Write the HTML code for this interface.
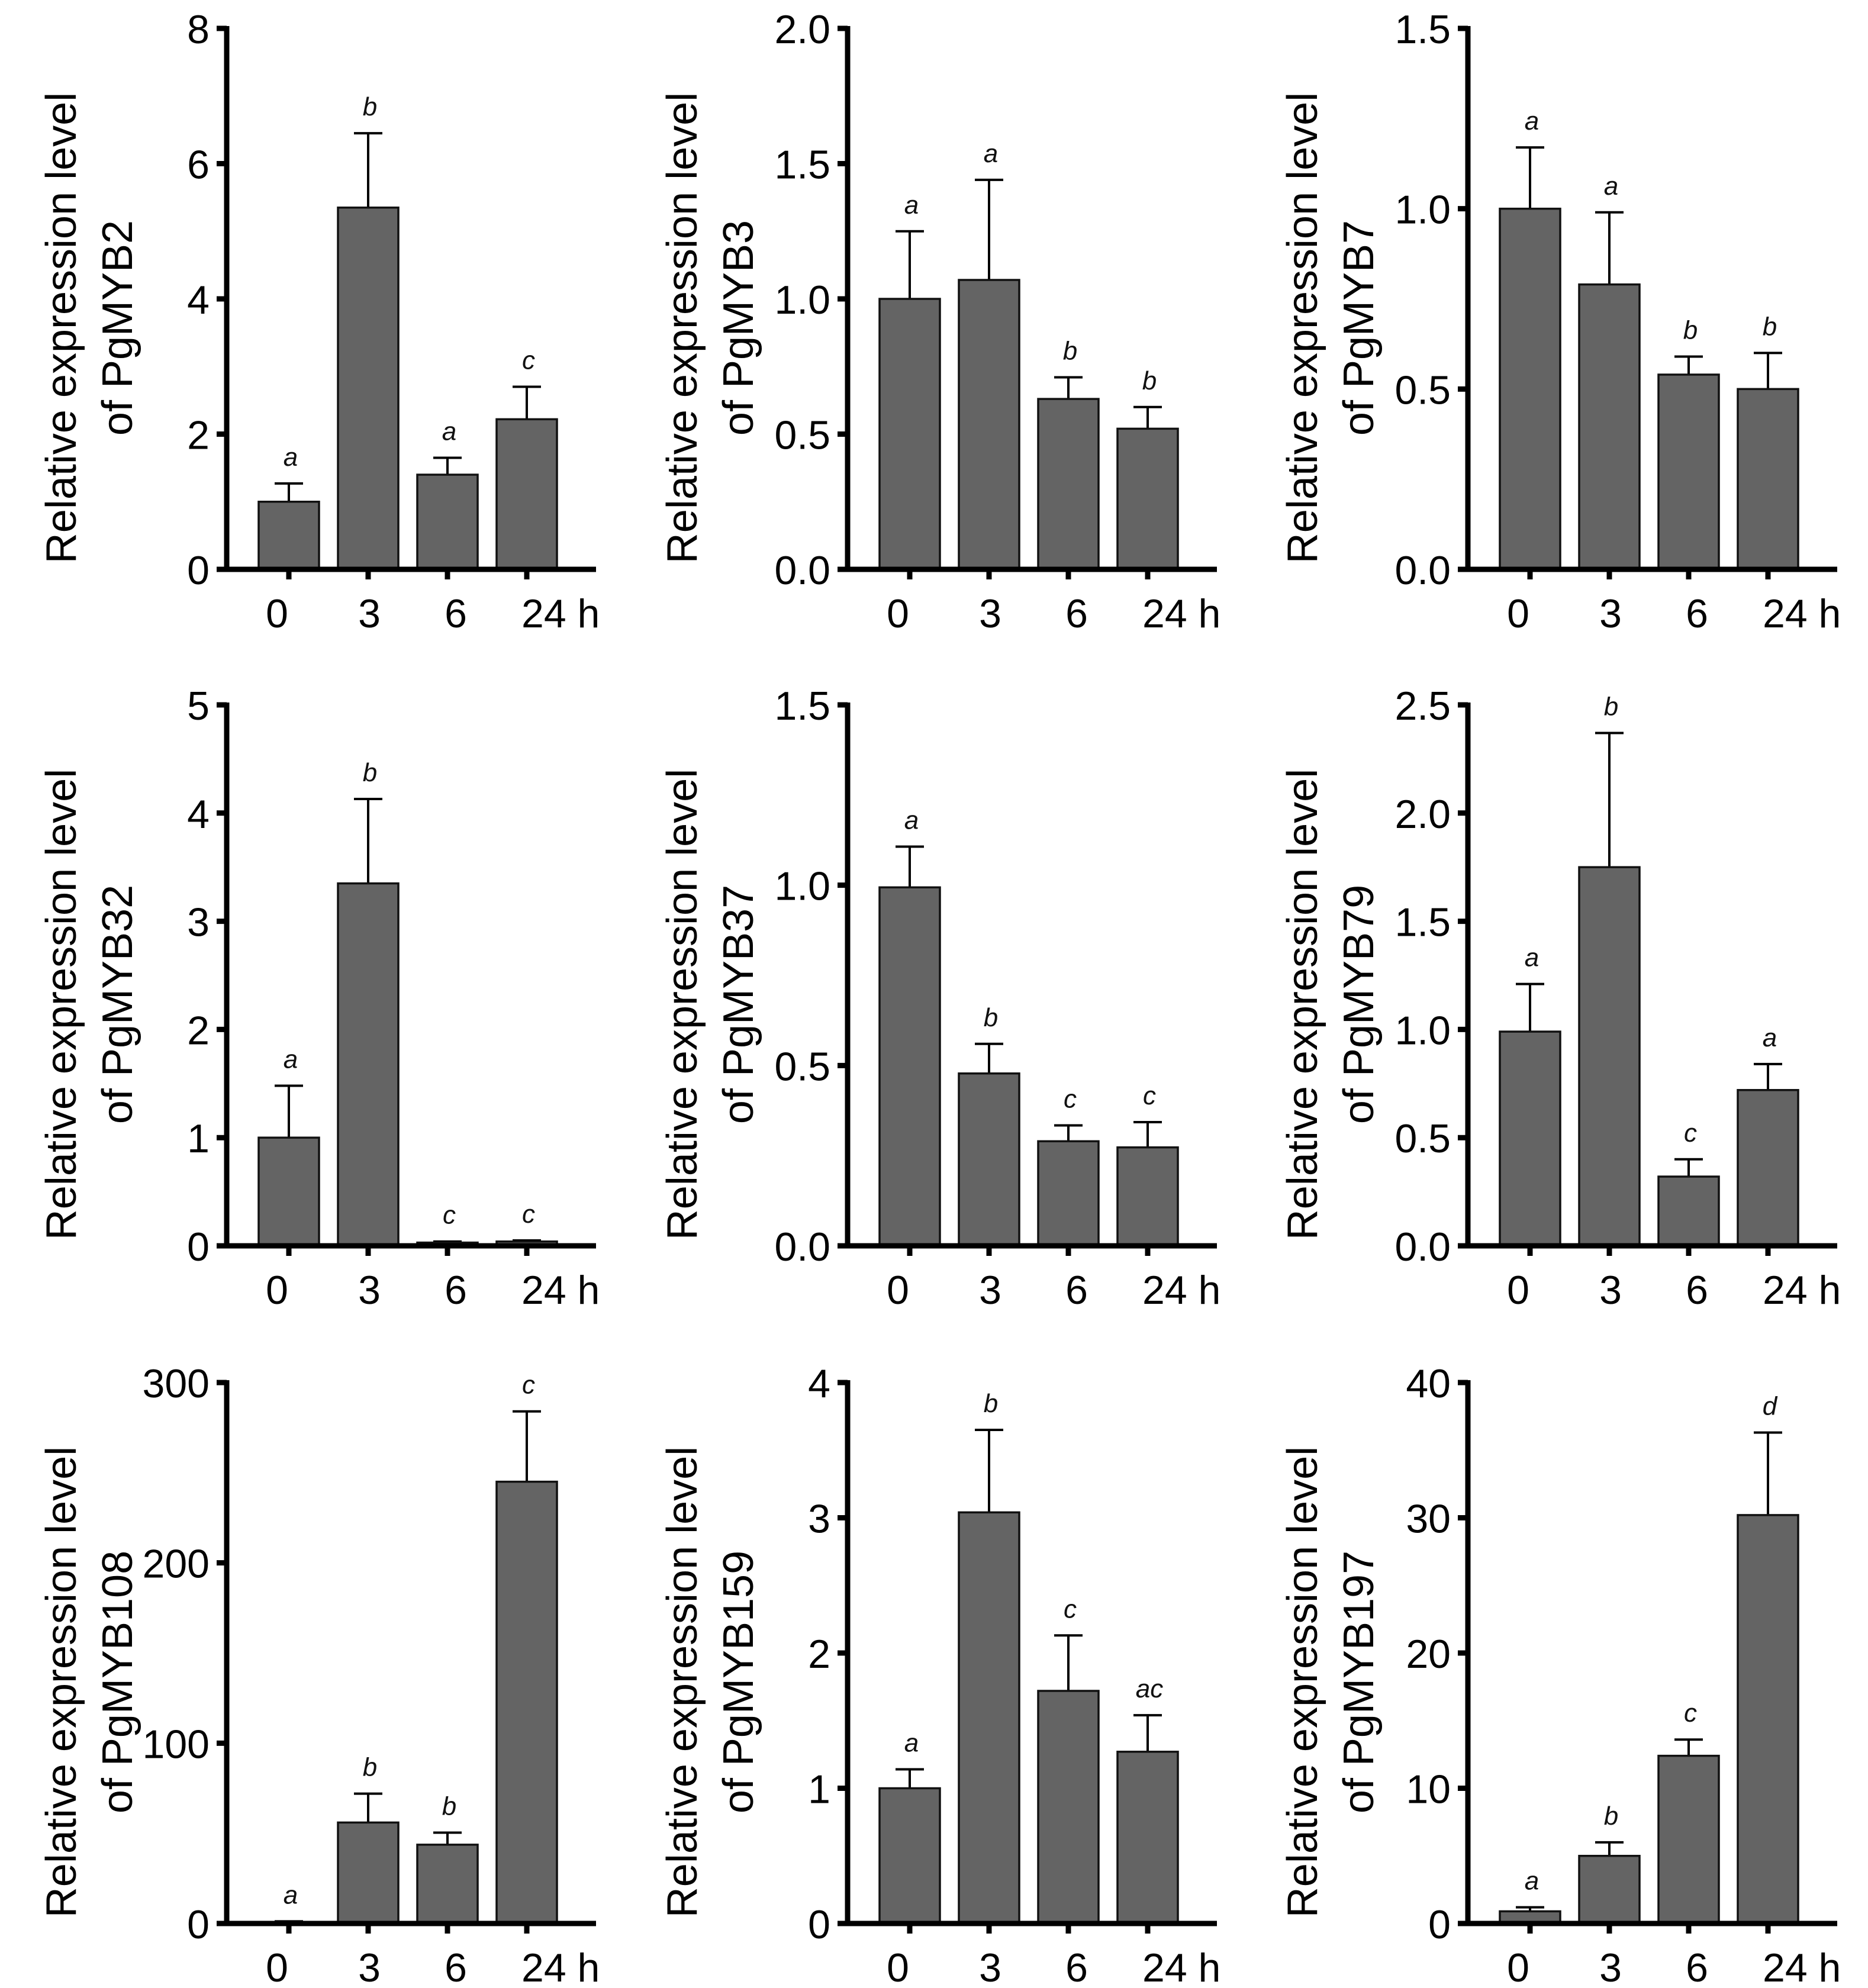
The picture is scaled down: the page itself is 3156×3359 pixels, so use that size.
<!DOCTYPE html>
<html><head><meta charset="utf-8"><style>
html,body{margin:0;padding:0;background:#fff;}
svg{display:block;font-family:"Liberation Sans",Arial,sans-serif;}
</style></head><body>
<svg id="fig" width="3156" height="3359" viewBox="0 0 3156 3359" xmlns="http://www.w3.org/2000/svg"></svg>
<script>
const categories = ["0","3","6","24 h"];
const genes = ["PgMYB2","PgMYB3","PgMYB7","PgMYB32","PgMYB37","PgMYB79","PgMYB108","PgMYB159","PgMYB197"];
const yMax = [8,2,1.5,5,1.5,2.5,300,4,40];
const yStep = [2,0.5,0.5,1,0.5,0.5,100,1,10];
const yDecimals = [0,1,1,0,1,1,0,0,0];
const means = [
  [1.0,5.35,1.4,2.22],
  [1.0,1.07,0.63,0.52],
  [1.0,0.79,0.54,0.5],
  [1.0,3.35,0.03,0.04],
  [0.994,0.478,0.29,0.273],
  [0.99,1.75,0.32,0.72],
  [0.6,56,43.7,245],
  [1.0,3.04,1.72,1.27],
  [0.9,5.0,12.4,30.2]
];
const errTops = [
  [1.27,6.45,1.65,2.7],
  [1.25,1.44,0.71,0.6],
  [1.17,0.99,0.59,0.6],
  [1.48,4.13,0.04,0.05],
  [1.107,0.56,0.334,0.343],
  [1.21,2.37,0.40,0.84],
  [1.2,72,50.4,284],
  [1.14,3.65,2.13,1.54],
  [1.2,6.0,13.6,36.3]
];
const letters = [
  ["a","b","a","c"],["a","a","b","b"],["a","a","b","b"],
  ["a","b","c","c"],["a","b","c","c"],["a","b","c","a"],
  ["a","b","b","c"],["a","b","c","ac"],["a","b","c","d"]
];

const NS="http://www.w3.org/2000/svg";
const svg=document.getElementById('fig');
function mk(tag,attrs,parent){const e=document.createElementNS(NS,tag);for(const k in attrs)e.setAttribute(k,attrs[k]);(parent||svg).appendChild(e);return e;}

const colX=[383,1432,2480], rowZ=[962,2105,3250], H=914;
const barOff=[105,239,373,507], barW=102;
const labelOff=[85,241,387,498];

for(let p=0;p<9;p++){
  const ax=colX[p%3], z=rowZ[Math.floor(p/3)];
  const yS=v=>z-v/yMax[p]*H;
  const g=mk('g',{});
  
  
  // bars
  for(let i=0;i<4;i++){
    const cx=ax+barOff[i];
    const et=yS(errTops[p][i]), bt=yS(means[p][i]);
    const eb=mk('line',{x1:cx,x2:cx,y1:bt,y2:et,stroke:'#000','stroke-width':4},g);
    
    
    const ec=mk('line',{x1:cx-24,x2:cx+24,y1:et,y2:et,stroke:'#000','stroke-width':4},g);
    
    
    const b=mk('rect',{x:cx-barW/2,y:bt,width:barW,height:Math.max(z-bt,0.5),fill:'#646464',stroke:'#111','stroke-width':3.5},g);
    
    
    const lt=mk('text',{x:cx+3,y:et-30,'font-size':44,'font-style':'italic','text-anchor':'middle',fill:'#111'},g);
    lt.textContent=letters[p][i];
    
    
    const tk=mk('line',{x1:cx,x2:cx,y1:z,y2:z+17,stroke:'#000','stroke-width':9},g);
    
    
    const xl=mk('text',{x:ax+labelOff[i],y:z+98,'font-size':68,'text-anchor':i==3?'start':'middle',fill:'#000'},g);
    xl.textContent=categories[i];
    
    
  }
  // axes
  const ya=mk('line',{x1:ax,x2:ax,y1:z-H-4,y2:z+4,stroke:'#000','stroke-width':9},g);
  
  
  const xa=mk('line',{x1:ax-17,x2:ax+624,y1:z,y2:z,stroke:'#000','stroke-width':9},g);
  
  
  const n=Math.round(yMax[p]/yStep[p]);
  for(let k=0;k<=n;k++){
    const v=k*yStep[p], y=yS(v);
    const t=mk('line',{x1:ax-17,x2:ax,y1:y,y2:y,stroke:'#000','stroke-width':9},g);
    
    
    const tl=mk('text',{x:ax-29,y:y+25,'font-size':68,'text-anchor':'end',fill:'#000'},g);
    tl.textContent=v.toFixed(yDecimals[p]);
    
    
  }
  // y title
  const cy=z-408;
  const t1=mk('text',{x:0,y:0,'font-size':72,'text-anchor':'middle',fill:'#000',transform:`translate(${ax-281+26},${cy}) rotate(-90)`},g);
  t1.textContent='Relative expression level';
  
  
  const t2=mk('text',{x:0,y:0,'font-size':72,'text-anchor':'middle',fill:'#000',transform:`translate(${ax-186+26},${cy}) rotate(-90)`},g);
  t2.textContent='of '+genes[p];
  
  
}
</script>
</body></html>
